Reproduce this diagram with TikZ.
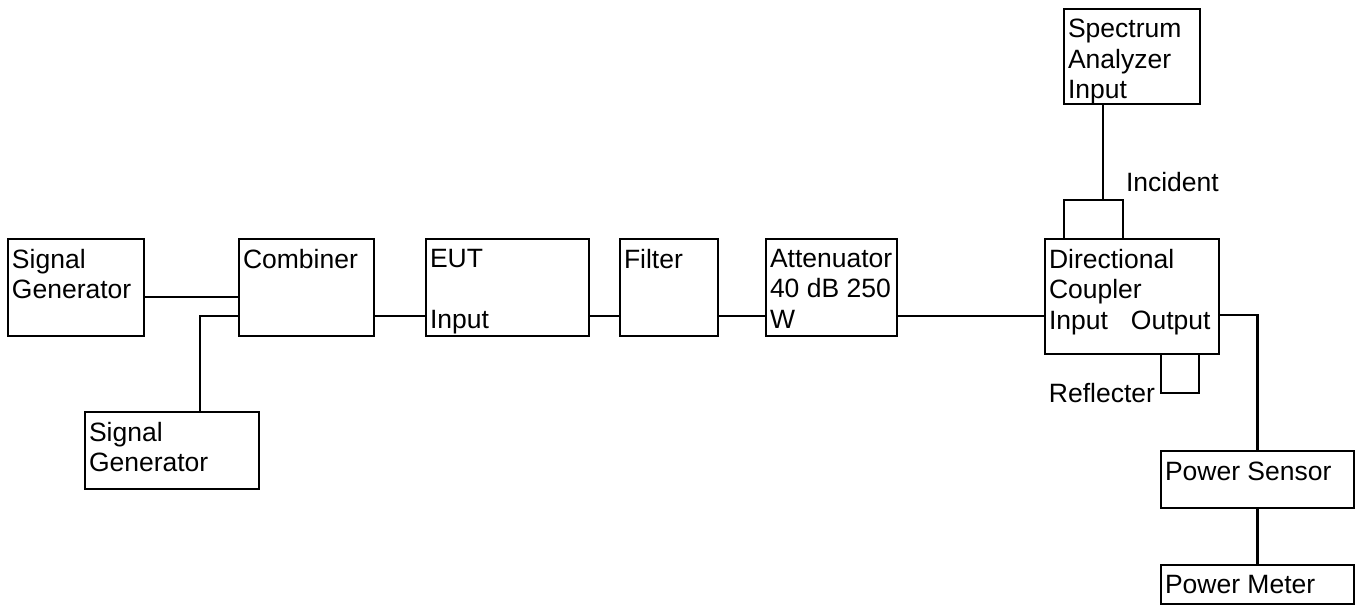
\documentclass[tikz,border=0pt]{standalone}
\usepackage{fontspec}
\setmainfont{Liberation Sans}
\begin{document}
\begin{tikzpicture}[x=1pt,y=-1pt,
  box/.style={draw,rectangle,line width=2.6pt,inner sep=0pt,outer sep=0pt,anchor=north west},
  lbl/.style={inner sep=0pt,outer sep=0pt,align=left,font=\fontsize{26.5}{30.5}\selectfont},
  wire/.style={line width=2.6pt}]
\useasboundingbox (0,0) rectangle (1365,606);
% boxes
\node[box,minimum width=136pt,minimum height=97pt] (sg1) at (8,239) {};
\node[box,minimum width=135pt,minimum height=97pt] (comb) at (239,239) {};
\node[box,minimum width=174pt,minimum height=77pt] (sg2) at (85,412) {};
\node[box,minimum width=163pt,minimum height=97pt] (eut) at (426,239) {};
\node[box,minimum width=98pt,minimum height=97pt] (filt) at (620,239) {};
\node[box,minimum width=131pt,minimum height=97pt] (att) at (766,239) {};
\node[box,minimum width=174pt,minimum height=115pt] (dc) at (1045,239) {};
\node[box,minimum width=59pt,minimum height=39pt] (inc) at (1064,200) {};
\node[box,minimum width=136pt,minimum height=95pt] (sa) at (1064,9) {};
\node[box,minimum width=38pt,minimum height=39pt] (refl) at (1161,354) {};
\node[box,minimum width=193pt,minimum height=57pt] (ps) at (1161,451) {};
\node[box,minimum width=193pt,minimum height=39pt] (pm) at (1161,565) {};
% labels
\node[lbl,anchor=north west] (tsg1) at ([shift={(4,10)}]sg1.north west) {Signal\\Generator};
\node[lbl,anchor=north west] (tcomb) at ([shift={(4,10)}]comb.north west) {Combiner};
\node[lbl,anchor=north west] (tsg2) at ([shift={(4,10)}]sg2.north west) {Signal\\Generator};
\node[lbl,anchor=north west] (teut) at ([shift={(4,10)}]eut.north west) {EUT\\\\Input};
\node[lbl,anchor=north west] (tfilt) at ([shift={(4,10)}]filt.north west) {Filter};
\node[lbl,anchor=north west] (tatt) at ([shift={(4,10)}]att.north west) {Attenuator\\40 dB 250\\W};
\node[lbl,anchor=north west] (tdc) at ([shift={(4,10)}]dc.north west) {Directional\\Coupler\\Input\hspace{23pt}Output};
\node[lbl,anchor=north west] (tsa) at ([shift={(4,10)}]sa.north west) {Spectrum\\Analyzer\\Input};
\node[lbl,anchor=north west] (tps) at ([shift={(4,11)}]ps.north west) {Power Sensor};
\node[lbl,anchor=north west] (tpm) at ([shift={(4,10)}]pm.north west) {Power Meter};
\node[lbl,anchor=north west] (tinc) at (1126,172) {Incident};
\node[lbl,anchor=north east] (trefl) at (1155,383) {Reflecter};
% wires
\draw[wire] ([yshift=-9.5pt]sg1.east) -- ([yshift=-9.5pt]comb.west);
\draw[wire] ([yshift=-28.5pt]comb.west) -| ([xshift=28pt]sg2.north);
\draw[wire] ([yshift=-28.5pt]comb.east) -- ([yshift=-28.5pt]eut.west);
\draw[wire] ([yshift=-28.5pt]eut.east) -- ([yshift=-28.5pt]filt.west);
\draw[wire] ([yshift=-28.5pt]filt.east) -- ([yshift=-28.5pt]att.west);
\draw[wire] ([yshift=-28.5pt]att.east) -- ([yshift=-19.5pt]dc.west);
\draw[wire] ([yshift=-18.5pt]dc.east) -| (ps.north);
\draw[wire] (ps.south) -- (pm.north);
\draw[wire] ([xshift=-29pt]sa.south) coordinate (t) -- (t |- inc.north);
\end{tikzpicture}
\end{document}
